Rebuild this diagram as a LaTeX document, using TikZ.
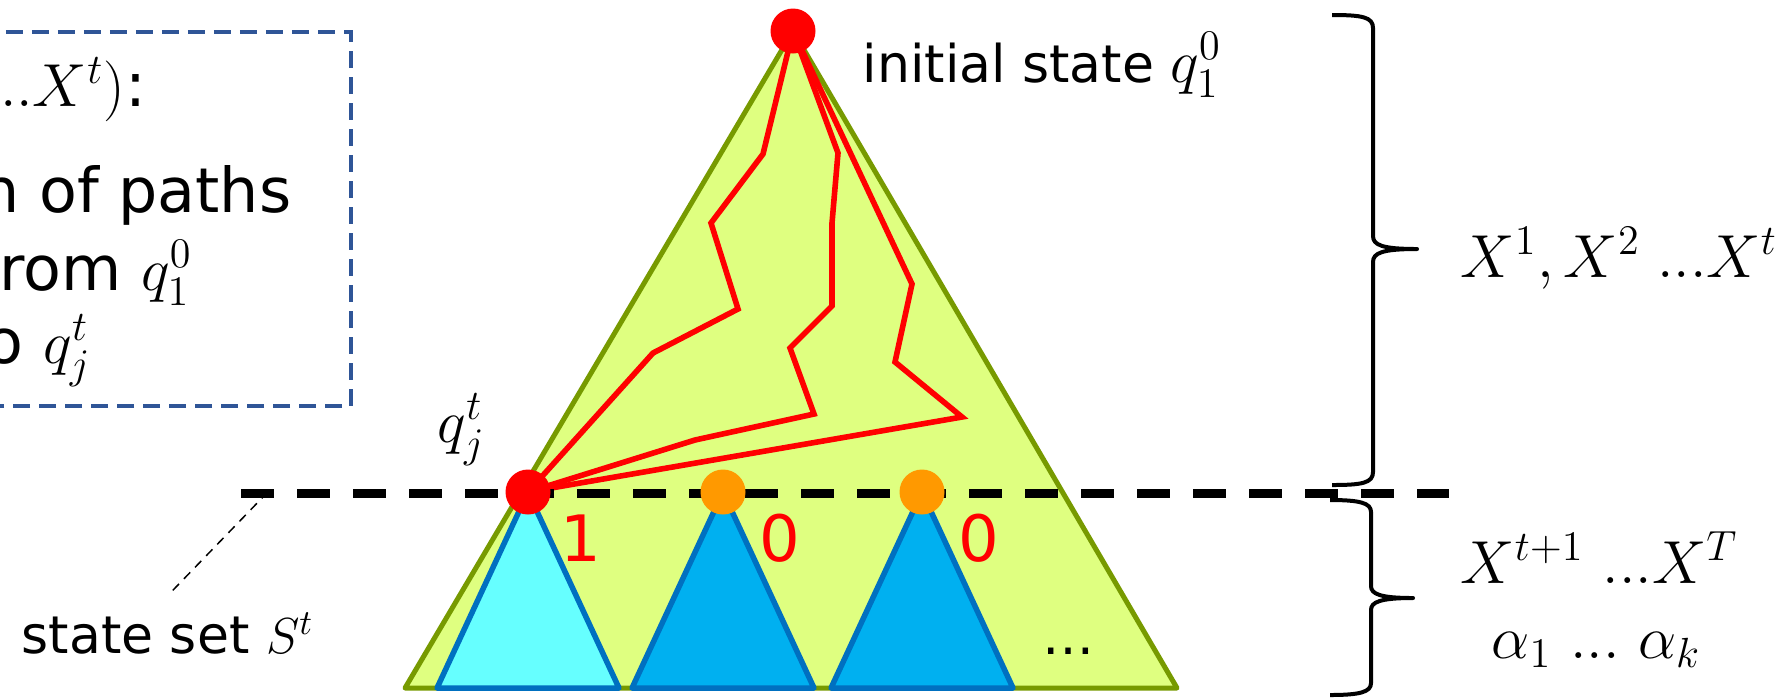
\documentclass[tikz,border=0pt]{standalone}
\usepackage[no-math]{fontspec}
\setmainfont{DejaVu Sans}
\usepackage{tikz}
\usetikzlibrary{backgrounds,calc}
\definecolor{treefill}{HTML}{DFFF80}
\definecolor{treeline}{HTML}{779A00}
\definecolor{subcyan}{HTML}{66FFFF}
\definecolor{subblue}{HTML}{00B0F0}
\definecolor{subline}{HTML}{0070C0}
\definecolor{pathred}{HTML}{FF0000}
\definecolor{dotorange}{HTML}{FF9900}
\definecolor{boxline}{HTML}{2F5597}
\tikzset{
  lbl/.style={font=\fontsize{14.8pt}{18pt}\selectfont, inner sep=0pt},
  boxtxt/.style={font=\fontsize{17.6pt}{21pt}\selectfont, inner sep=0pt},
  mathlbl/.style={font=\fontsize{17.9pt}{21pt}\selectfont, inner sep=0pt},
  sidelbl/.style={font=\fontsize{16.5pt}{20pt}\selectfont, inner sep=0pt},
  bitlbl/.style={font=\fontsize{18.2pt}{21pt}\selectfont, text=pathred, inner sep=0pt},
  statedot/.style={circle, minimum size=4.5mm, inner sep=0pt},
  reddot/.style={statedot, fill=pathred},
  orangedot/.style={statedot, fill=dotorange},
  bigtree/.style={draw=treeline, fill=treefill, line width=0.5mm, line join=round},
  subtree/.style={draw=subline, line width=0.55mm, line join=round},
  redpath/.style={draw=pathred, line width=0.56mm},
  cutline/.style={line width=0.9mm, dash pattern=on 3.3mm off 2.3mm},
  curly/.style={line width=0.4mm, line join=round},
  hint/.style={line width=0.15mm, dash pattern=on 0.9mm off 0.7mm},
  notebox/.style={draw=boxline, line width=0.35mm, dash pattern=on 1.7mm off 0.9mm}
}
\newcommand{\sym}[1]{{\fontsize{17.9pt}{21pt}\selectfont$#1$}}
\newcommand{\tdots}{{.}{.}{.}}

\begin{document}
\begin{tikzpicture}[x=0.1mm,y=-0.1mm]
  \useasboundingbox (0,0) rectangle (1786,697);
  \clip (0,0) rectangle (1786,697);

  % states
  \node[reddot]    (q10) at (793,31)  {};
  \node[reddot]    (qjt) at (528,492) {};
  \node[orangedot] (qa)  at (723,492) {};
  \node[orangedot] (qb)  at (922,492) {};
  \coordinate (cutL) at (241,493);
  \coordinate (cutR) at (1449,493);
  \coordinate (setpt) at (263,497);

  \begin{scope}[on background layer]
    \draw[bigtree] (q10.center) -- (405,688) -- (1177,688) -- cycle;
    % paths from q10 to qjt
    \draw[redpath] (q10.center) -- (763,154) -- (711,223) -- (738,309)
      -- (653,353) -- (qjt.center);
    \draw[redpath] (q10.center) -- (838,153) -- (832,223) -- (832,306)
      -- (790,348) -- (814,414) -- (695,440) -- (qjt.center);
    \draw[redpath] (q10.center) -- (912,284) -- (895,362) -- (962,417)
      -- (qjt.center);
    % subtrees
    \draw[subtree, fill=subcyan] (qjt.center) -- ++(-91,196) -- ++(182,0) -- cycle;
    \foreach \s in {qa,qb}
      \draw[subtree, fill=subblue] (\s.center) -- ++(-91,196) -- ++(182,0) -- cycle;
    \draw[cutline] (cutL) -- (cutR);
  \end{scope}

  % labels
  \node[lbl, anchor=base west] (initlbl) at (862,82) {initial state \sym{q_1^0}};
  \node[mathlbl, anchor=base west] (qjtlbl) at (437,442) {$q_j^t$};
  \node[bitlbl] (bit1) at (581,538) {1};
  \node[bitlbl] (bit2) at (780,538) {0};
  \node[bitlbl] (bit3) at (979,538) {0};
  \node[lbl, anchor=base] (more) at (1068,654) {…};

  \node[lbl, anchor=base west] (setlbl) at (21,653) {state set $S^t$};
  \draw[hint] ($(setlbl.north)+(5,-22)$) -- (setpt);

  % note box
  \draw[notebox] (-20,32) -- (351,32) -- (351,406) -- (-20,406);
  \node[boxtxt, anchor=base east] (probhead) at (147,106) {$P(X^1\tdots X^t)$:};
  \node[boxtxt, anchor=base east] (pathsum) at (292,212) {Summation of paths};
  \node[boxtxt, anchor=base west] (fromq) at (-23,290) {from $q_1^0$};
  \node[boxtxt, anchor=base west] (toq) at (-39,363) {to $q_j^t$};

  % braces
  \draw[curly] (1332,15) .. controls (1362,15) and (1373,17) .. (1373,28)
    -- (1373,236) .. controls (1373,245) and (1382,249) .. (1417,249)
    .. controls (1382,249) and (1373,253) .. (1373,262)
    -- (1373,472) .. controls (1373,483) and (1362,485) .. (1332,485);
  \draw[curly] (1330,500) .. controls (1360,500) and (1371,503) .. (1371,512)
    -- (1371,586) .. controls (1371,594) and (1380,598) .. (1413,598)
    .. controls (1380,598) and (1371,602) .. (1371,610)
    -- (1371,683) .. controls (1371,692) and (1360,695) .. (1330,695);
  \node[sidelbl, anchor=base west] (obs)    at (1460,277) {$X^1,X^2\;\tdots X^t$};
  \node[sidelbl, anchor=base west] (future) at (1460,583) {$X^{t+1}\ \tdots X^T$};
  \node[sidelbl, anchor=base west] (alphas) at (1491,658) {$\alpha_1\ \tdots\ \alpha_k$};
\end{tikzpicture}
\end{document}
